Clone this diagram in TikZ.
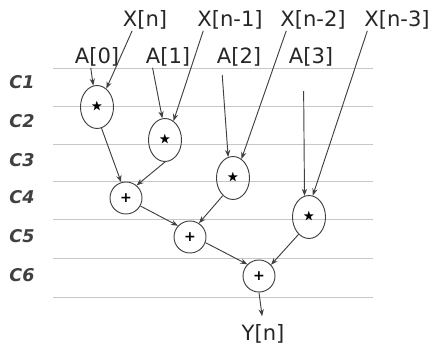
\documentclass[tikz,border=0pt]{standalone}
\usepackage{fontspec}
\setmainfont{DejaVu Sans}
\usepackage{amssymb}
\usetikzlibrary{shapes.geometric, arrows.meta, positioning}

\begin{document}
\begin{tikzpicture}[x=0.03cm, y=-0.03cm,
    mulnode/.style={ellipse, draw=black!75, line width=0.8pt,
                    minimum width=0.99cm, minimum height=1.29cm,
                    inner sep=0pt, font=\normalsize},
    addnode/.style={circle, draw=black!75, line width=0.8pt,
                    minimum size=0.96cm, inner sep=0pt,
                    font=\large\bfseries},
    sig/.style={font=\fontsize{18}{21}\selectfont, text=black!85,
                inner sep=1pt},
    cyc/.style={font=\fontsize{15}{18}\selectfont\itshape\bfseries,
                text=black!75},
    arr/.style={-{Stealth[length=6pt, width=4.5pt]}, line width=0.8pt,
                draw=black!75},
    cycline/.style={draw=black!22, line width=0.6pt},
]
\useasboundingbox (0,0) rectangle (433,347);

% --- cycle lines + labels ---
\foreach \yy in {68,106,144,181,219,258,297}
    \draw [cycline] (53,\yy) -- (373,\yy);
\foreach \lab/\yy in {C1/82, C2/121, C3/160, C4/197, C5/236, C6/275}
    \node [cyc] at (22,\yy) {\lab};

% --- inputs ---
\node (xn)  [sig] at (145,20) {X[n]};
\node (xn1) [sig] at (230,20) {X[n-1]};
\node (xn2) [sig] at (313,20) {X[n-2]};
\node (xn3) [sig] at (397,20) {X[n-3]};
\node (a0)  [sig] at (97,57)  {A[0]};
\node (a1)  [sig] at (168,57) {A[1]};
\node (a2)  [sig] at (239,57) {A[2]};
\node (a3)  [sig] at (311,57) {A[3]};

% --- multipliers ---
\node (m0) [mulnode] at (97,107)  {$\bigstar$};
\node (m1) [mulnode] at (165,140) {$\bigstar$};
\node (m2) [mulnode] at (233,178) {$\bigstar$};
\node (m3) [mulnode] at (309,217) {$\bigstar$};

% --- adders ---
\node (s1) [addnode] at (126,198) {+};
\node (s2) [addnode] at (190,237) {+};
\node (s3) [addnode] at (259,276) {+};

% --- output ---
\node (yn) [sig] at (263,334) {Y[n]};

% --- input arrows ---
\draw [arr] (a0.240)  -- (m0.100);
\draw [arr] (xn.220)  -- (m0.63);
\draw [arr] (a1.215)  -- (m1.97);
\draw [arr] (xn1.202) -- (m1.66);
\draw [arr, shorten <=6pt] (a2.212) -- (m2.103);
\draw [arr] (xn2.202) -- (m2.66);
\draw [arr, shorten <=20pt] (a3.235) -- (m3.102);
\draw [arr] (xn3.200) -- (m3.80);

% --- adder tree ---
\draw [arr] (m0.282) -- (s1.107);
\draw [arr] (m1.270) -- (s1.50);
\draw [arr] (s1.331) -- (s2.137);
\draw [arr] (m2.240) -- (s2.57);
\draw [arr] (s2.340) -- (s3.135);
\draw [arr] (m3.239) -- (s3.43);
\draw [arr, shorten >=6pt] (s3.south) -- (yn.north);

\end{tikzpicture}
\end{document}
